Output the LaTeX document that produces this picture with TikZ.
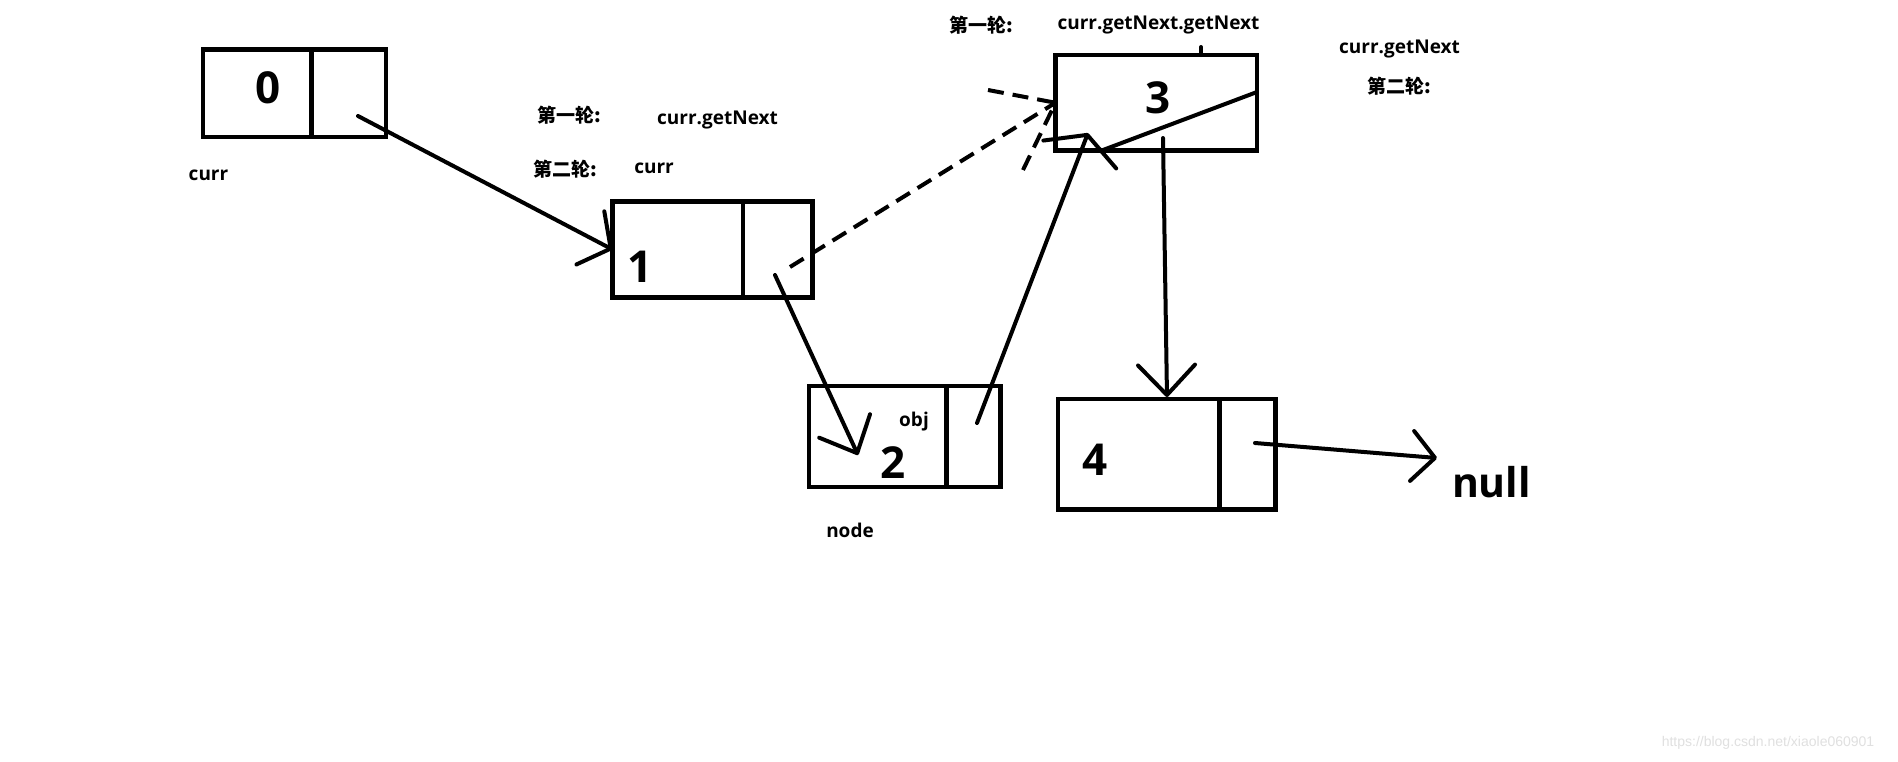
\documentclass[tikz,border=0pt]{standalone}
\usepackage{fontspec}
\setmainfont{Open Sans}
\newfontfamily\cjk{Noto Sans CJK SC}
\newfontfamily\wmfont{Liberation Sans}
\usetikzlibrary{arrows.meta}

\begin{document}
\begin{tikzpicture}[x=1pt,y=-1pt,line width=4pt,line cap=round,line join=round]
		\tikzstyle{every node}=[inner sep=0pt,font=\bfseries\fontsize{19}{22}\selectfont];
		\tikzstyle{cell}=[draw,line width=4.5pt,line cap=rect,line join=miter,outer sep=0pt,anchor=north west];
		\tikzstyle{digit}=[font=\bfseries\fontsize{44}{48}\selectfont];
		\tikzstyle{dashlink}=[dash pattern=on 16pt off 9pt,line cap=butt];
		\fill[white] (0,0) rectangle (1898,761);
		% the list cells
		\node[cell,minimum width=108.5pt,minimum height=87.5pt] (v0) at (203,49.5) {};
		\node[cell,anchor=west,minimum width=74.5pt,minimum height=87.5pt] (p0) at (v0.east) {};
		\node[cell,minimum width=130.5pt,minimum height=96pt] (v1) at (612.5,201.5) {};
		\node[cell,anchor=west,minimum width=69.5pt,minimum height=96pt] (p1) at (v1.east) {};
		\node[cell,minimum width=137.5pt,minimum height=101pt] (v2) at (809,386) {};
		\node[cell,anchor=west,minimum width=54pt,minimum height=101pt] (p2) at (v2.east) {};
		\node[cell,minimum width=201.5pt,minimum height=95.5pt] (n3) at (1055.5,55) {};
		\node[cell,minimum width=161.5pt,minimum height=110.5pt] (v4) at (1058,399) {};
		\node[cell,anchor=west,minimum width=56pt,minimum height=110.5pt] (p4) at (v4.east) {};
		% values
		\node[digit] (d0) at (268,88) {0};
		\node[digit] (d1) at (640,267) {1};
		\node[digit] (d2) at (893.5,462.5) {2};
		\node[digit] (d3) at (1158,98) {3};
		\node[digit] (d4) at (1095,460) {4};
		% labels
		\node[anchor=base] (curr0) at (208.5,180) {curr};
		\node (r1a) at (569.5,115) {\cjk 第一轮:};
		\node[anchor=base] (g1a) at (717.5,124) {curr.getNext};
		\node (r2a) at (565,169.5) {\cjk 第二轮:};
		\node[anchor=base] (curr1) at (654,173) {curr};
		\node (r1b) at (981,25) {\cjk 第一轮:};
		\node[anchor=base] (g2b) at (1158.5,29.5) {curr.getNext.getNext};
		\node[anchor=base] (g1b) at (1399.5,53) {curr.getNext};
		\node (r2b) at (1399,86) {\cjk 第二轮:};
		\node[anchor=base] (obj) at (914,426) {obj};
		\node[anchor=base] (nd) at (850,537) {node};
		\node[anchor=base,font=\bfseries\fontsize{41}{44}\selectfont] (null) at (1491.5,497) {null};
		\node[font=\wmfont\fontsize{14}{16}\selectfont,text=black!12] (wm) at (1768,743) {https://blog.csdn.net/xiaole060901};
		% pointer ends
		\coordinate (s0) at (358,116);
		\coordinate (s1) at (775,275);
		\coordinate (s1d) at (790,267);
		\coordinate (a2) at (858,455);
		\coordinate (s2) at (977,423);
		\coordinate (a3) at (1088,133);
		\coordinate (s3) at (1163,138);
		\coordinate (a4) at (1167,397);
		\coordinate (s4) at (1255,443);
		\coordinate (anull) at (1437,458);
		\coordinate (b1) at (988,90);
		\coordinate (b2) at (1023,170);
		\coordinate (k1) at (1103,150);
		\coordinate (k2) at (1257,92);
		% links
		\draw[-{Straight Barb[round,length=23pt,width=60pt]}] (s0) -- (v1.west);
		\draw[-{Straight Barb[round,length=30pt,width=56pt]}] (s1) -- (a2);
		\draw[dashlink] (s1d) -- (n3.west);
		\draw[dashlink] (b1) -- (n3.west);
		\draw[dashlink] (b2) -- (n3.west);
		\draw[-{Straight Barb[round,length=21pt,width=78pt]}] (s2) -- (a3);
		\draw (k1) -- (k2);
		\draw (1201,47) -- (1201,55);
		\draw[-{Straight Barb[round,length=30pt,width=57pt]}] (s3) -- (a4);
		\draw[-{Straight Barb[round,length=23pt,width=50pt]}] (s4) -- (anull);
\end{tikzpicture}
\end{document}
